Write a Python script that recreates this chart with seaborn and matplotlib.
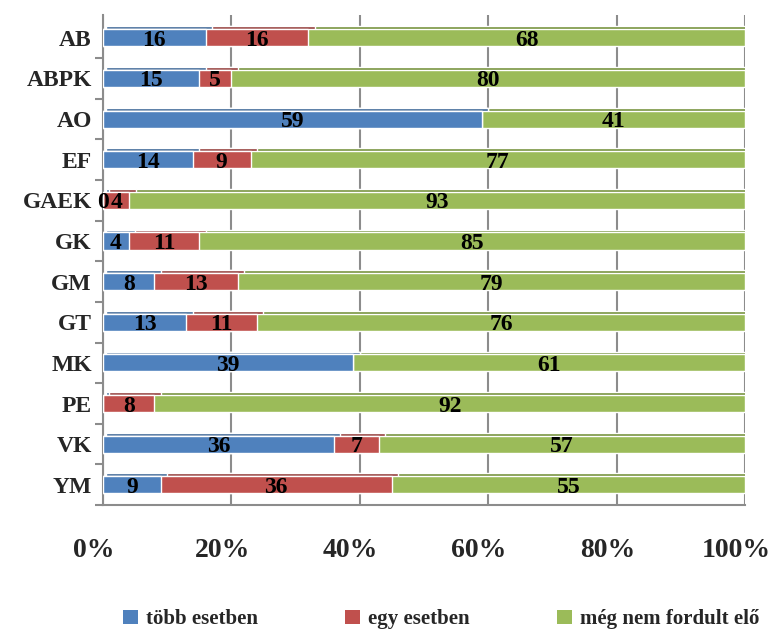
import numpy as np
import pandas as pd
import seaborn as sns
import matplotlib.pyplot as plt
import matplotlib.transforms as mtransforms
from matplotlib.patches import Patch

# adatok (üres cella = None)
csoportok = ["AB", "ABPK", "AO", "EF", "GAEK", "GK", "GM", "GT", "MK", "PE", "VK", "YM"]
tobb = [16, 15, 59, 14, 0, 4, 8, 13, 39, None, 36, 9]
egy = [16, 5, None, 9, 4, 11, 13, 11, None, 8, 7, 36]
meg_nem = [68, 80, 41, 77, 93, 85, 79, 76, 61, 92, 57, 55]

sorozatok = ["több esetben", "egy esetben", "még nem fordult elő"]
szinek = ["#4F81BD", "#C0504D", "#9BBB59"]
sotet_szinek = ["#3A6495", "#943C3A", "#76923C"]
x_tick_ertekek = [0, 20, 40, 60, 80, 100]

sns.set_theme(style="white")
plt.rcParams['font.family'] = ['Liberation Serif', 'DejaVu Serif']
plt.rcParams['font.weight'] = 'bold'

df = pd.DataFrame({"csoport": csoportok, sorozatok[0]: tobb,
                   sorozatok[1]: egy, sorozatok[2]: meg_nem})
ertekek = df[sorozatok].astype(float).fillna(0)
szazalek = ertekek.div(ertekek.sum(axis=1), axis=0) * 100
kum = szazalek.cumsum(axis=1)

fig = plt.figure(figsize=(7.73, 6.29), dpi=100)
ax = fig.add_axes([0.1332, 0.197, 0.8305, 0.779])

# 3D-s hatás: sötétebb felső lap a sávok mögött
poz = np.arange(len(csoportok))
for s, c in reversed(list(zip(sorozatok, sotet_szinek))):
    ax.barh(poz - 0.07, kum[s] + 0.6, left=0.4, height=0.42, color=c, zorder=2.5)

# halmozott sávok: hátulról előre
for s, c in reversed(list(zip(sorozatok, szinek))):
    sns.barplot(x=kum[s], y=df["csoport"], color=c, orient="h",
                width=0.42, saturation=1, ax=ax, zorder=3)

# feliratok a szegmensek közepén
for s in sorozatok:
    kozep = kum[s] - szazalek[s] / 2
    for i, v in enumerate(df[s]):
        if pd.notna(v):
            ax.text(kozep[i], i, f"{int(v)}", ha="center", va="center_baseline",
                    fontsize=17, fontweight="bold", color="black", zorder=5)

ax.set_xlim(0, 100)
ax.set_ylim(11.45, -0.56)
ax.set_xticks(x_tick_ertekek)
ax.set_xticklabels([f"{v}%" for v in x_tick_ertekek], fontsize=20, fontweight="bold")
ax.tick_params(axis="x", length=0, pad=24)
ax.tick_params(axis="y", length=0, pad=8, labelsize=17)
ax.set_yticks(poz + 0.5, minor=True)
ax.tick_params(axis="y", which="minor", length=6, color="#8c8c8c", width=1.5, left=True)
ax.set_xlabel("")
ax.set_ylabel("")
for lbl in ax.get_yticklabels():
    lbl.set_fontweight("bold")

# a % feliratok kicsit balra tolva, mint az eredetin
eltolas = mtransforms.ScaledTranslation(-9 / 100, 0, fig.dpi_scale_trans)
for lbl in ax.get_xticklabels():
    lbl.set_transform(lbl.get_transform() + eltolas)

ax.xaxis.grid(True, color="#8c8c8c", linewidth=1.5)
ax.set_axisbelow(True)
for sp in ["top", "right"]:
    ax.spines[sp].set_visible(False)
for sp in ["left", "bottom"]:
    ax.spines[sp].set_color("#8c8c8c")
    ax.spines[sp].set_linewidth(1.5)

kezelok = [Patch(facecolor=c, edgecolor="none") for c in szinek]
fig.legend(kezelok, sorozatok, loc="lower center", bbox_to_anchor=(0.571, -0.03),
           ncol=3, frameon=False, fontsize=15, handlelength=0.7, handleheight=0.7,
           handletextpad=0.4, columnspacing=4.2)

fig.savefig("out.png", dpi=100)
